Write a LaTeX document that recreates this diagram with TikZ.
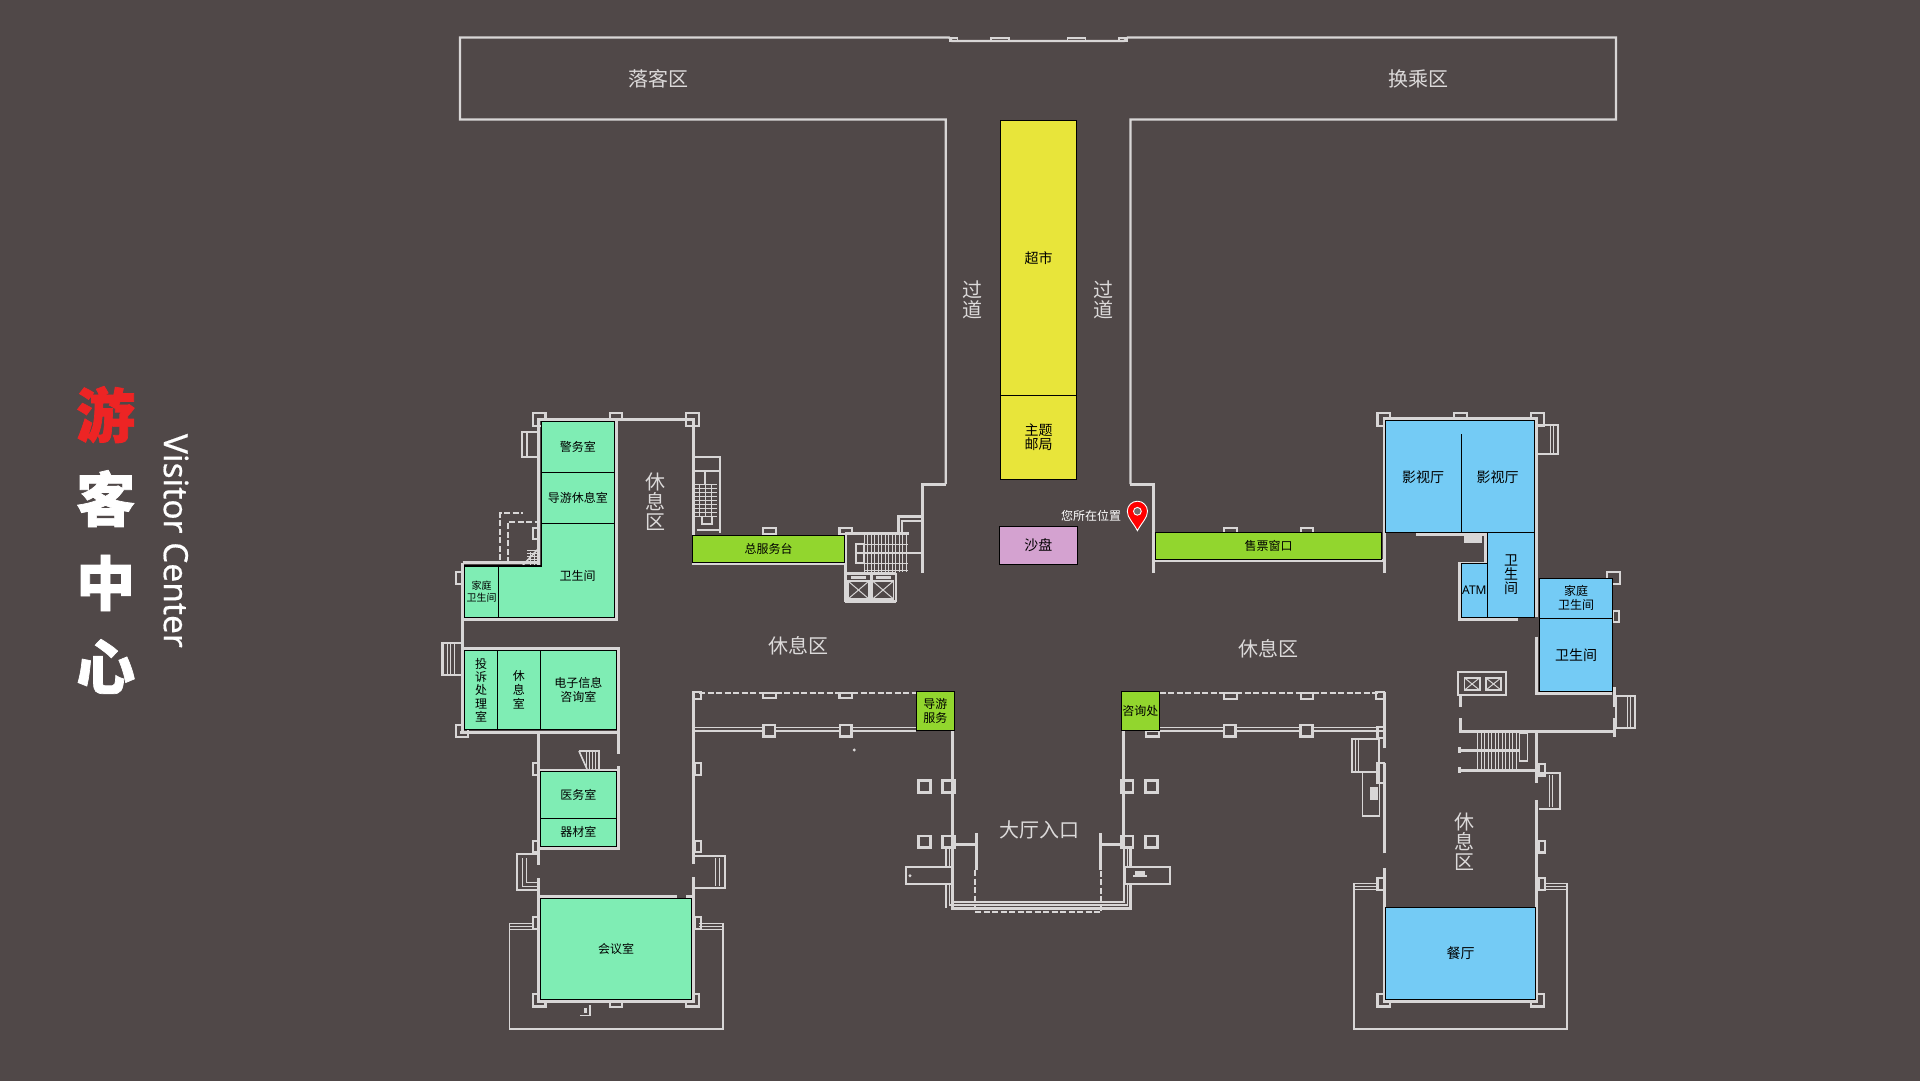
\documentclass[tikz,border=0pt]{standalone}
\usepackage{fontspec}
\setmainfont{Noto Sans CJK SC}[BoldFeatures={FakeBold=1.2}]
\newfontfamily\latinfont{Noto Sans}
\newfontfamily\visitorfont{Noto Sans}[FakeBold=0.4]
\usepackage{tikz}
\definecolor{bg_color}{HTML}{504848}
\definecolor{wall_color}{HTML}{D8D6D6}
\definecolor{area_color}{HTML}{DCDADA}
\definecolor{green_color}{HTML}{7FEDB4}
\definecolor{blue_color}{HTML}{74CBF5}
\definecolor{lime_color}{HTML}{92D62E}
\definecolor{yellow_color}{HTML}{E8E53A}
\definecolor{pink_color}{HTML}{D4A2D0}
\definecolor{title_red}{HTML}{ED2424}
\newcommand{\roomfont}{\fontsize{12}{14}\selectfont}
\newcommand{\bigroomfont}{\fontsize{14}{14}\selectfont}

\begin{document}
\begin{tikzpicture}[x=1pt, y=-1pt,
room_style/.style={rectangle,draw=black,line width=1.1pt,inner sep=0pt,align=center,text=black,font=\roomfont},
green_room/.style={room_style,fill=green_color},
blue_room/.style={room_style,fill=blue_color},
lime_room/.style={room_style,fill=lime_color},
wall_style/.style={draw=wall_color,line width=3pt},
thin_style/.style={draw=wall_color,line width=2.2pt},
terrace_style/.style={draw=wall_color,line width=1.6pt},
tread_style/.style={draw=wall_color,line width=1pt},
dash_style/.style={draw=wall_color,line width=1.8pt,dash pattern=on 6pt off 2.5pt},
area_style/.style={text=area_color,align=center,inner sep=0pt,font=\fontsize{20}{20}\selectfont}]
\useasboundingbox (0,0) rectangle (1920,1080);
\fill[bg_color] (-5,-5) rectangle (1925,1085);

% outer passage
\draw[thin_style] (945.7,484) -- (945.7,119.5) -- (460,119.5) -- (460,37.5) -- (949,37.5) -- (952,41) -- (1124,41) -- (1127.7,37.5) -- (1616,37.5) -- (1616,119.5) -- (1130.4,119.5) -- (1130.4,484);
\foreach \px in {990.7,1067.3}
  \draw[terrace_style] (\px,37.8) rectangle ++(18,3.2);
\draw[terrace_style] (949.3,37.8) rectangle ++(8,3.2);
\draw[terrace_style] (1118.7,37.8) rectangle ++(8,3.2);
\draw[wall_style] (945.7,484) -- (922.7,484) -- (922.7,573);
\draw[wall_style] (1130.4,484) -- (1153.6,484) -- (1153.6,572.7);

% left wing
\draw[wall_style] (538.8,565) -- (538.8,419) -- (693,419) -- (693,563.3) -- (845,563.3);
\draw[wall_style] (462.7,562.5) -- (540,562.5);
\draw[wall_style] (616.3,419) -- (616.3,619.5) -- (462.7,619.5);
\draw[wall_style] (462.7,562.5) -- (462.7,732);
\draw[wall_style] (462.7,648.7) -- (618.5,648.7) -- (618.5,754);
\draw[wall_style] (460,732) -- (618.5,732);
\draw[wall_style] (538.8,732) -- (538.8,865);
\draw[wall_style] (538.8,878) -- (538.8,1001.7) -- (693,1001.7) -- (693,877.3);
\draw[wall_style] (693,692) -- (693,864);
\draw[wall_style] (538.8,770) -- (618.5,770);
\draw[wall_style] (618.5,766) -- (618.5,848.5) -- (538.8,848.5);
\draw[wall_style] (540,896.3) -- (676.5,896.3);
\draw[wall_style] (686,896.3) -- (692,896.3);
\draw[dash_style] (499.9,560) -- (499.9,513.3) -- (522.6,513.3);
\draw[dash_style] (507.8,563) -- (507.8,521.7) -- (538.8,521.7);
\draw[thin_style] (538.8,431.7) -- (521.6,431.7) -- (521.6,457.3) -- (538.8,457.3);
\draw[terrace_style] (527,433) -- (527,456);
\foreach \px/\py in {532.6/413.3,686.2/413.3,532.6/994,686.2/994,1377.5/413.3,1531/413.3,1377.5/994,1531/994}
  \draw[thin_style] (\px,\py) rectangle ++(12.8,12.4);
\foreach \px/\py in {609.7/413.3,609.7/1001.7,1454.3/413.3,763.3/528.3,839.4/528.3,1224/527.7,1300.7/527.7,763.3/692.7,839.4/692.7,1224/693.3,1300.7/693.3,1146/731}
  \draw[thin_style] (\px,\py) rectangle ++(12.6,5.5);
\foreach \px/\py in {532.6/527.7,456.2/572.3,532.6/763.3,532.6/840.7,532.6/917.3,694.5/763.3,694.5/840.7,694.5/917.3,1538.6/764,1538.6/841,1538.6/878.3,1377.5/878.3,1613/610.7,1377.5/726.7}
  \draw[thin_style] (\px,\py) rectangle ++(6.2,11.5);
\draw[thin_style] (1607,572.3) rectangle ++(13,11.7);
\draw[thin_style] (456,725) rectangle ++(12,11.7);
\draw[thin_style] (442.4,643.3) rectangle (463,675);
\foreach \tx in {447,450.5,454}
  \draw[tread_style] (\tx,643.3) -- (\tx,675);
\draw[thin_style] (538.8,854.3) -- (516.8,854.3) -- (516.8,890) -- (538.8,890);
\draw[tread_style] (522,858) -- (522,886) -- (538,886);
\draw[tread_style] (526,858) -- (526,882) -- (538,882);
\draw[thin_style] (694.5,856) -- (724.8,856) -- (724.8,887.7) -- (694.5,887.7);
\draw[tread_style] (715,858) -- (715,886);
\draw[tread_style] (719,858) -- (719,886);
\draw[terrace_style] (532.6,923.3) -- (509.5,923.3) -- (509.5,1028.7) -- (722.7,1028.7) -- (722.7,923.3) -- (699,923.3);
\draw[tread_style] (509.5,926) -- (532.6,926);
\draw[tread_style] (509.5,929) -- (532.6,929);
\draw[tread_style] (699,926) -- (722.7,926);
\draw[tread_style] (699,929) -- (722.7,929);
\draw[terrace_style] (590,1005) -- (590,1015.5) -- (580,1015.5);
\fill[wall_color] (584,1008) rectangle ++(2.5,5);
\draw[terrace_style] (579,751) -- (599,751) -- (599,769);
\draw[terrace_style] (579,751) -- (587,769);
\foreach \tx in {586,589,592,595}
  \draw[tread_style] (\tx,751) -- (\tx,769);
\draw[terrace_style] (523,565) -- (539,548);
\foreach \ty in {550,553,...,565}
  \draw[tread_style] (527,\ty) -- (539,\ty);
\foreach \tx in {530,534}
  \draw[tread_style] (\tx,552) -- (\tx,565);

% left stair and lifts
\draw[thin_style] (693.8,457.3) rectangle (719.6,471);
\draw[thin_style] (719.6,471) -- (719.6,533);
\draw[terrace_style] (705,471) -- (705,484);
\foreach \ty in {484,488,...,516}
  \draw[tread_style] (694.5,\ty) -- (717,\ty);
\foreach \tx in {699,705,711}
  \draw[tread_style] (\tx,484) -- (\tx,516);
\draw[thin_style] (697,530) -- (719,530);
\draw[terrace_style] (702,516) -- (702,524) -- (712,524) -- (712,516);
\draw[wall_style] (845,533.3) -- (909,533.3);
\draw[wall_style] (845,533.3) -- (845,602);
\draw[wall_style] (845,573.3) -- (896,573.3);
\draw[wall_style] (845,601) -- (896,601);
\draw[thin_style] (896,573.3) -- (896,602);
\draw[wall_style] (871,573) -- (871,602);
\draw[thin_style] (855.6,553) -- (921,553);
\draw[thin_style] (855.6,544) rectangle (864.2,563.3);
\draw[wall_style] (898,535) -- (898,516.7) -- (921,516.7);
\draw[terrace_style] (902,535) -- (902,520.7) -- (921,520.7);
\foreach \tx in {864,867.5,...,907}
  \draw[tread_style] (\tx,534) -- (\tx,571.5);
\foreach \ty in {544,563,570}
  \draw[tread_style] (864,\ty) -- (908,\ty);
\foreach \lx in {848,872.5}{
  \draw[terrace_style] (\lx,581) rectangle ++(21,18);
  \draw[tread_style] (\lx,581) -- ++(21,18);
  \draw[tread_style] (\lx,599) -- ++(21,-18);
  \fill[wall_color] (\lx+3,576) rectangle ++(15,2.5);
}

% middle corridors
\draw[dash_style] (699,692.7) -- (916,692.7);
\draw[dash_style] (1159.6,693.3) -- (1378,693.3);
\draw[terrace_style] (693,727.5) -- (916,727.5);
\draw[terrace_style] (693,731.2) -- (916,731.2);
\draw[terrace_style] (1159.6,727.5) -- (1384,727.5);
\draw[terrace_style] (1159.6,731.2) -- (1384,731.2);
\draw[thin_style] (1376,692) rectangle (1384,699);
\draw[thin_style] (693,692) rectangle (701,699);
\fill[wall_color] (854.2,750) circle (1.6);
\foreach \px/\py in {763.3/725,840/725,1224/725,1300.7/725,918.7/780.7,942.7/780.7,918.7/836,942.7/836,1121.3/780.7,1145.7/780.7,1121.3/836,1145.7/836}
  \filldraw[thin_style,line width=2.6pt,fill=bg_color] (\px,\py) rectangle ++(11.5,11.5);

% entrance
\draw[wall_style] (952.7,730) -- (952.7,908.3) -- (1130.7,908.3) -- (1130.7,848);
\draw[wall_style] (1123.7,730) -- (1123.7,848);
\draw[terrace_style] (946,848) -- (946,908.3);
\draw[terrace_style] (949.3,848) -- (949.3,905) -- (1127.3,905) -- (1127.3,848);
\draw[terrace_style] (952.7,901.7) -- (1123.7,901.7) -- (1123.7,848);
\draw[wall_style] (955.3,844) -- (976,844);
\draw[wall_style] (976,833.3) -- (976,870);
\draw[wall_style] (1100,844) -- (1121.3,844);
\draw[wall_style] (1100,833.3) -- (1100,870);
\draw[dash_style] (975,870) -- (975,912.3) -- (1101,912.3) -- (1101,870);
\filldraw[thin_style,fill=bg_color] (906,867.3) rectangle (952,884);
\filldraw[thin_style,fill=bg_color] (1125,867.3) rectangle (1170,884);
\fill[wall_color] (910,875.7) circle (1.6);
\fill[wall_color] (1133,875) rectangle (1147,876.5);
\fill[wall_color] (1135,870.5) rectangle (1145,875);

% right wing
\draw[wall_style] (1153.6,560.7) -- (1384,560.7);
\draw[wall_style] (1384,572.7) -- (1384,418.3) -- (1536.8,418.3) -- (1536.8,616.7);
\draw[wall_style] (1536.8,636.7) -- (1536.8,693.3) -- (1612,693.3);
\draw[wall_style] (1416,534.3) -- (1485.7,534.3) -- (1485.7,563) -- (1459,563) -- (1459,619) -- (1518,619);
\fill[wall_color] (1464.3,536) rectangle (1482,542.7);
\draw[thin_style] (1537.5,425) -- (1557.9,425) -- (1557.9,454.3) -- (1537.5,454.3);
\draw[tread_style] (1550,425) -- (1550,454.3);
\draw[tread_style] (1553.5,425) -- (1553.5,454.3);
\draw[thin_style] (1458.2,671.7) rectangle (1506,695);
\foreach \lx in {1464.3,1485.7}{
  \draw[terrace_style] (\lx,677.7) rectangle ++(15.5,12.5);
  \draw[tread_style] (\lx,677.7) -- ++(15.5,12.5);
  \draw[tread_style] (\lx,690.2) -- ++(15.5,-12.5);
}
\draw[wall_style] (1460,695) -- (1460,706.7);
\draw[wall_style] (1460,718.3) -- (1460,733);
\draw[wall_style] (1460,731) -- (1614,731);
\draw[wall_style] (1614,687.3) -- (1614,706.7);
\draw[wall_style] (1614,717.7) -- (1614,736.7);
\draw[thin_style] (1616,696) rectangle (1634.6,728.3);
\draw[tread_style] (1627,696) -- (1627,728.3);
\draw[tread_style] (1630.5,696) -- (1630.5,728.3);
\foreach \tx in {1477.5,1481,...,1519}
  \draw[tread_style] (\tx,733) -- (\tx,769);
\draw[terrace_style] (1519.6,733) rectangle (1527.5,760.7);
\draw[wall_style] (1459,750) -- (1519.6,750);
\draw[wall_style] (1459,770) -- (1537,770);
\draw[wall_style] (1459,747) -- (1459,753);
\draw[wall_style] (1459,767) -- (1459,773);
\draw[wall_style] (1536.8,731) -- (1536.8,782.7);
\draw[wall_style] (1536.8,800) -- (1536.8,1001.7) -- (1384,1001.7) -- (1384,868.3);
\draw[wall_style] (1384,853.3) -- (1384,763.3);
\draw[wall_style] (1384,748.3) -- (1384,691.7);
\draw[thin_style] (1538.6,773.3) -- (1560,773.3) -- (1560,809.3) -- (1538.6,809.3);
\draw[tread_style] (1549,775) -- (1549,807);
\draw[tread_style] (1552.5,775) -- (1552.5,807);
\draw[thin_style] (1351.8,739.3) rectangle (1378.6,771.7);
\draw[tread_style] (1355,739.3) -- (1355,771.7);
\draw[tread_style] (1358.5,739.3) -- (1358.5,771.7);
\draw[terrace_style] (1362.5,771.7) rectangle (1379.6,816);
\fill[wall_color] (1370,787) rectangle (1378,800);
\draw[thin_style] (1377.5,763) rectangle (1384,783);
\draw[terrace_style] (1378.6,883.3) -- (1354,883.3) -- (1354,1028.7) -- (1566.8,1028.7) -- (1566.8,883.3) -- (1543.6,883.3);
\draw[tread_style] (1354,886) -- (1378.6,886);
\draw[tread_style] (1354,889) -- (1378.6,889);
\draw[tread_style] (1543.6,886) -- (1566.8,886);
\draw[tread_style] (1543.6,889) -- (1566.8,889);

% rooms
\node[green_room,minimum width=73.4pt,minimum height=50.6pt] (jingwu) at (577.9,447) {警务室};
\node[green_room,minimum width=73.4pt,minimum height=51.2pt] (daoyou) at (577.9,497.9) {导游休息室};
\filldraw[draw=black,line width=1.1pt,fill=green_color] (541.2,523.5) -- (614.6,523.5) -- (614.6,617.3) -- (498.5,617.3) -- (498.5,566) -- (541.2,566) -- cycle;
\node[text=black,font=\roomfont,inner sep=0pt] (weisheng_a) at (577.7,576) {卫生间};
\node[green_room,minimum width=33.7pt,minimum height=51.3pt,font=\fontsize{10}{12}\selectfont] (jiating_a) at (481.6,591.6) {家庭\\卫生间};
\node[green_room,minimum width=32.7pt,minimum height=78.6pt,font=\fontsize{12}{13.3}\selectfont] (tousu) at (481.1,690) {投\\诉\\处\\理\\室};
\node[green_room,minimum width=42.7pt,minimum height=78.6pt] (xiuxi) at (518.8,690) {休\\息\\室};
\node[green_room,minimum width=76.4pt,minimum height=78.6pt] (dianzi) at (578.4,690) {电子信息\\咨询室};
\node[green_room,minimum width=76.4pt,minimum height=47pt] (yiwu) at (578.4,794.8) {医务室};
\node[green_room,minimum width=76.4pt,minimum height=28pt] (qicai) at (578.4,832.3) {器材室};
\node[green_room,minimum width=151.5pt,minimum height=101pt] (huiyi) at (616,948.8) {会议室};
\node[lime_room,minimum width=152.2pt,minimum height=27.4pt] (zongfuwu) at (768.5,549) {总服务台};
\node[lime_room,minimum width=38pt,minimum height=39pt] (daoyoufuwu) at (935.3,711.2) {导游\\服务};
\node[lime_room,minimum width=38pt,minimum height=39pt] (zixun) at (1140.3,711.2) {咨询处};
\node[lime_room,minimum width=226.4pt,minimum height=27.4pt] (shoupiao) at (1268.6,546) {售票窗口};
\node[room_style,fill=yellow_color,minimum width=75.6pt,minimum height=275.2pt,font=\bigroomfont] (chaoshi) at (1038.5,257.9) {超市};
\node[room_style,fill=yellow_color,minimum width=75.6pt,minimum height=83.8pt,font=\bigroomfont] (youju) at (1038.5,437.4) {主题\\邮局};
\node[room_style,fill=pink_color,minimum width=78pt,minimum height=37.6pt,font=\bigroomfont] (shapan) at (1038.3,545.5) {沙盘};
\node[blue_room,minimum width=149.2pt,minimum height=111.6pt] (yingshi) at (1460,476.5) {};
\coordinate (divider_top) at (1461.4,434);
\draw[draw=black,line width=1.1pt] (divider_top) -- (divider_top |- yingshi.south);
\node[text=black,font=\bigroomfont,inner sep=0pt] (yingshi_a) at (1423.2,476.7) {影视厅};
\node[text=black,font=\bigroomfont,inner sep=0pt] (yingshi_b) at (1497.5,476.7) {影视厅};
\node[blue_room,minimum width=47.1pt,minimum height=85pt,font=\bigroomfont] (weisheng_b) at (1511,574.8) {卫\\生\\间};
\node[blue_room,minimum width=26.1pt,minimum height=54pt,font=\latinfont\fontsize{12}{14}\selectfont] (atm) at (1474.4,590.3) {ATM};
\node[blue_room,minimum width=73.6pt,minimum height=40pt] (jiating_b) at (1576.1,598.3) {家庭\\卫生间};
\node[blue_room,minimum width=73.6pt,minimum height=73pt,font=\bigroomfont] (weisheng_c) at (1576.1,654.8) {卫生间};
\node[blue_room,minimum width=150.3pt,minimum height=92pt,font=\bigroomfont] (canting) at (1460.5,953.3) {餐厅};

% areas
\node[area_style] (luoke) at (658.8,78.4) {落客区};
\node[area_style] (huancheng) at (1418,78.4) {换乘区};
\node[area_style] (guodao_a) at (972.3,300) {过\\道};
\node[area_style] (guodao_b) at (1103.3,300) {过\\道};
\node[area_style] (xiuxi_a) at (655.2,501.7) {休\\息\\区};
\node[area_style] (xiuxi_b) at (798.8,646) {休息区};
\node[area_style] (xiuxi_c) at (1268.6,648.3) {休息区};
\node[area_style] (xiuxi_d) at (1464.3,841.7) {休\\息\\区};
\node[area_style] (rukou) at (1039,830) {大厅入口};

% marker
\filldraw[draw=white,line width=0.9pt,fill=red] (1137.4,530.7) .. controls (1133,522) and (1127.3,518) .. (1127.3,511.3) arc[start angle=180,end angle=360,radius=10.1] .. controls (1147.5,518) and (1142,522) .. (1137.4,530.7) -- cycle;
\filldraw[draw=white,line width=0.9pt,fill=bg_color!80!white] (1137.4,511.3) circle (3.9);
\node[text=white,font=\roomfont,inner sep=0pt] (here) at (1091,515.7) {您所在位置};

% title
\node[align=center,text=white,inner sep=0pt,font=\fontsize{59}{84}\bfseries\selectfont] (title) at (105.7,540) {\textcolor{title_red}{游}\\客\\中\\心};
\node[rotate=-90,text=white,inner sep=0pt,font=\visitorfont\fontsize{33.5}{33.5}\selectfont] (visitor) at (176,540.8) {Visitor Center};
\end{tikzpicture}
\end{document}
